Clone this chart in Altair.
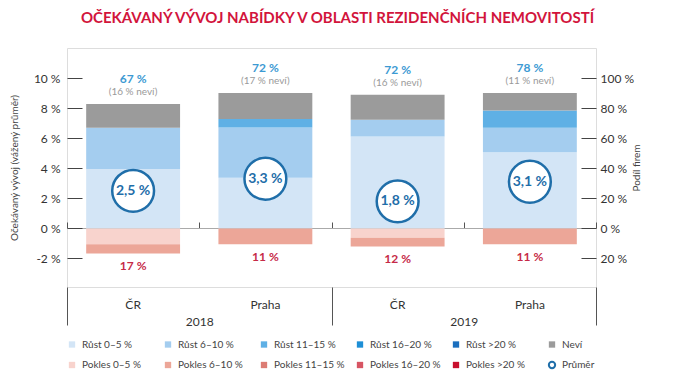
import altair as alt
import pandas as pd

FONT = "Lato"

# ---- data -------------------------------------------------------------
keys = ["2018|ČR", "2018|Praha", "2019|ČR", "2019|Praha"]
years = ["2018", "2019"]

categories = ["Růst 0–5 %", "Růst 6–10 %", "Růst 11–15 %", "Růst 16–20 %", "Růst >20 %", "Neví",
              "Pokles 0–5 %", "Pokles 6–10 %", "Pokles 11–15 %", "Pokles 16–20 %", "Pokles >20 %", "Průměr"]
colors = ["#d3e5f6", "#a4cdef", "#5fb0e5", "#1e8fd6", "#1b6fbe", "#9b9b9b",
          "#f8d3cd", "#eca698", "#dc7c74", "#d75563", "#c8102e", "#ffffff"]

# share of firms (%) per segment, one value per bar (ČR 2018, Praha 2018, ČR 2019, Praha 2019)
rust_0_5 = [39.5, 33.7, 61.1, 50.7]
rust_6_10 = [27.5, 33.4, 11.1, 16.2]
rust_11_15 = [0.0, 5.6, 0.0, 11.5]
nevi = [15.7, 17.3, 16.7, 11.6]
pokles_0_5 = [-10.5, 0.0, -6.2, 0.0]
pokles_6_10 = [-6.2, -10.5, -5.8, -10.5]

growth_labels = ["67 %", "72 %", "72 %", "78 %"]
nevi_labels = ["(16 % neví)", "(17 % neví)", "(16 % neví)", "(11 % neví)"]
decline_labels = ["17 %", "11 %", "12 %", "11 %"]
average = [2.5, 3.3, 1.8, 3.1]
average_labels = ["2,5 %", "3,3 %", "1,8 %", "3,1 %"]

axis_values = [-20, 0, 20, 40, 60, 80, 100]

# ---- tables -----------------------------------------------------------
series = {
    "Růst 0–5 %": rust_0_5,
    "Růst 6–10 %": rust_6_10,
    "Růst 11–15 %": rust_11_15,
    "Neví": nevi,
    "Pokles 0–5 %": pokles_0_5,
    "Pokles 6–10 %": pokles_6_10,
}
rows = []
for cat, vals in series.items():
    for k, v in zip(keys, vals):
        if v != 0:
            rows.append({"key": k, "cat": cat, "value": v, "ord": categories.index(cat)})
seg = pd.DataFrame(rows)

pos_sum = [a + b + c + d for a, b, c, d in zip(rust_0_5, rust_6_10, rust_11_15, nevi)]
neg_sum = [a + b for a, b in zip(pokles_0_5, pokles_6_10)]
bar_df = pd.DataFrame({
    "key": keys, "top": pos_sum, "bottom": neg_sum,
    "growth": growth_labels, "nevi": nevi_labels, "decline": decline_labels,
    "avg": average, "avg_label": average_labels,
})
year_df = pd.DataFrame({"year": years})
key_df = pd.DataFrame({"key": keys})
tick_df = pd.DataFrame({"v": axis_values})

# ---- scales / axes ----------------------------------------------------
yscale = alt.Scale(domain=[-39, 120], nice=False, zero=False)
xscale = alt.Scale(domain=keys, paddingInner=0.29, paddingOuter=0.145)

x_axis = alt.Axis(title=None, ticks=False, domain=False, labelExpr="split(datum.label, '|')[1]",
                  labelFont=FONT, labelFontSize=12, labelColor="#333", labelPadding=12,
                  labelAngle=0, grid=False, orient="bottom")
X = alt.X("key:N", sort=keys, scale=xscale, axis=x_axis)

left_axis = alt.Axis(values=axis_values, labelExpr="datum.value/10 + ' %'", orient="left",
                     offset=-15, tickSize=15, tickColor="#444", domain=False, grid=False,
                     labelOverlap=False,
                     labelPadding=7, labelFont=FONT, labelFontSize=12, labelColor="#333",
                     title="Očekávaný vývoj (vážený průměr)", titleFont=FONT, titleFontSize=10,
                     titleFontWeight="normal", titleColor="#444", titlePadding=14)
Y = lambda f: alt.Y(f, scale=yscale, axis=left_axis)

right_axis = alt.Axis(values=axis_values, labelExpr="abs(datum.value) + ' %'", orient="right",
                      offset=-15, tickSize=15, tickColor="#444", domain=False, grid=False,
                      labelOverlap=False,
                      labelPadding=4, labelFont=FONT, labelFontSize=12, labelColor="#333",
                      title="Podíl firem", titleFont=FONT, titleFontSize=10, titleAngle=270,
                      titleFontWeight="normal", titleColor="#444", titlePadding=8)

legend = alt.Legend(
    orient="none", legendX=0, legendY=290, direction="horizontal", columns=6, title=None,
    symbolType=alt.ExprRef(expr="datum.value === 'Průměr' ? 'circle' : 'square'"),
    symbolStrokeColor=alt.ExprRef(expr="datum.value === 'Průměr' ? '#1f6ea9' : 'transparent'"),
    symbolStrokeWidth=alt.ExprRef(expr="datum.value === 'Průměr' ? 2 : 0"),
    symbolSize=40, labelFont=FONT, labelFontSize=10,
    labelColor="#444", labelOffset=5, columnPadding=7, rowPadding=6, gridAlign="all",
)

# ---- layers -----------------------------------------------------------
bars = alt.Chart(seg).mark_bar().encode(
    x=X,
    y=alt.Y("value:Q", stack="zero", scale=yscale, axis=left_axis),
    color=alt.Color("cat:N", scale=alt.Scale(domain=categories, range=colors), legend=legend),
    order=alt.Order("ord:Q", sort="ascending"),
)

circles = alt.Chart(bar_df).transform_calculate(avg_y="datum.avg * 10").mark_point(
    shape="circle", size=1750, filled=True, fill="white", stroke="#1f6ea9",
    strokeWidth=2.5, opacity=1,
).encode(x=X, y=Y("avg_y:Q"))

circle_text = alt.Chart(bar_df).transform_calculate(avg_y="datum.avg * 10").mark_text(
    font=FONT, fontSize=14, fontWeight="bold", color="#1f6ea9", baseline="middle",
).encode(x=X, y=Y("avg_y:Q"), text="avg_label:N")

growth_text = alt.Chart(bar_df).mark_text(
    font=FONT, fontSize=12, fontWeight="bold", color="#3c9ad3", baseline="middle", dy=-25,
).encode(x=X, y=Y("top:Q"), text="growth:N")

nevi_text = alt.Chart(bar_df).mark_text(
    font=FONT, fontSize=10, color="#9a9a9a", baseline="middle", dy=-12,
).encode(x=X, y=Y("top:Q"), text="nevi:N")

decline_text = alt.Chart(bar_df).mark_text(
    font=FONT, fontSize=12, fontWeight="bold", color="#c62a47", baseline="middle", dy=13,
).encode(x=X, y=Y("bottom:Q"), text="decline:N")

inner = alt.layer(bars, circles, circle_text, growth_text, nevi_text, decline_text)

year_layer = alt.Chart(year_df).mark_point(opacity=0).encode(
    x=alt.X("year:N", sort=years, scale=alt.Scale(paddingInner=0, paddingOuter=0),
            axis=alt.Axis(title=None, orient="bottom", tickBand="extent", tickSize=38,
                          tickColor="#555", domain=False, labelPadding=-9, labelAngle=0,
                          labelFont=FONT, labelFontSize=12, labelColor="#333", grid=False))
)

zero_layer = alt.Chart(key_df).mark_point(opacity=0).encode(
    x=alt.X("key:N", sort=keys, scale=alt.Scale(paddingInner=0, paddingOuter=0),
            axis=alt.Axis(title=None, orient="top", offset=-180, tickBand="extent", tickSize=6,
                          tickColor="#555", domain=True, domainColor="#aaa", labels=False,
                          grid=False))
)

right_layer = alt.Chart(tick_df).mark_point(opacity=0).encode(
    y=alt.Y("v:Q", scale=yscale, axis=right_axis)
)

chart = alt.layer(inner, year_layer, zero_layer, right_layer).resolve_scale(
    x="independent", y="independent"
).properties(
    width=529, height=239,
    autosize=alt.AutoSizeParams(type="none"),
    padding={"left": 59, "top": 40, "right": 70, "bottom": 85},
    title=alt.Title("OČEKÁVANÝ VÝVOJ NABÍDKY V OBLASTI REZIDENČNÍCH NEMOVITOSTÍ",
                    color="#d2143c", fontSize=15, font=FONT, fontWeight="bold",
                    anchor="middle", offset=22, dx=6),
).configure_view(
    stroke="#555", strokeWidth=1
).configure_axis(
    labelFont=FONT, titleFont=FONT
).configure_axisX(
    labelFont=FONT
).configure_axisBottom(
    labelFont=FONT
).configure_legend(
    labelFont=FONT
).configure(font=FONT)

chart.save("out.html", embed_options={"renderer": "svg", "actions": False})
